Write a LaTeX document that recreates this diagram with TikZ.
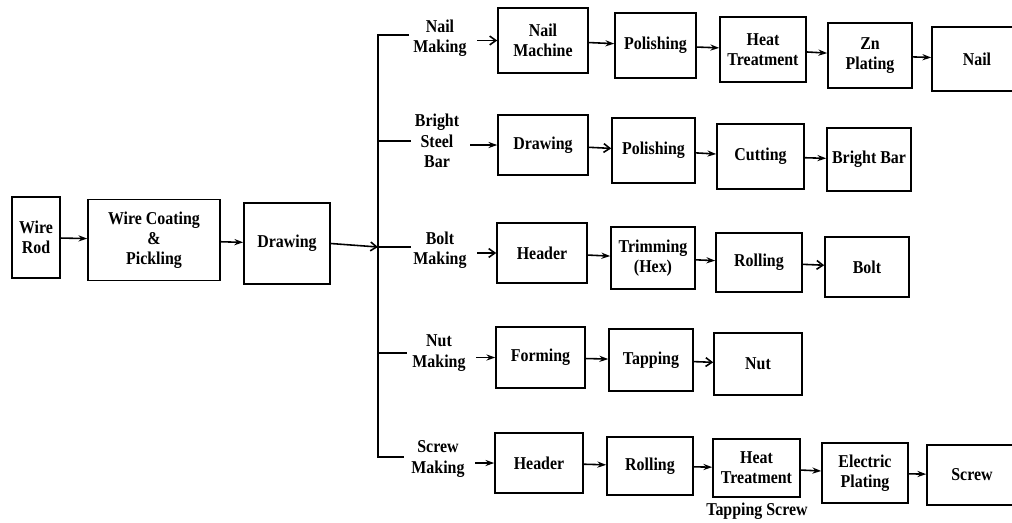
\documentclass[tikz,border=0pt]{standalone}
\usepackage{fontspec}
\setmainfont{Liberation Serif}[FakeStretch=0.88]
\usetikzlibrary{arrows.meta}
\newcommand{\lblfont}{\fontsize{10.3}{11.5}\selectfont\bfseries}
\begin{document}
\begin{tikzpicture}[x=0.02cm,y=-0.02cm,
  box/.style={draw, line width=0.9pt, inner sep=0pt, align=center, font=\lblfont},
  sz/.style 2 args={minimum width=#1*0.02cm, minimum height=#2*0.02cm},
  lbl/.style={align=center, font=\lblfont, inner sep=2pt},
  ln/.style={line width=0.9pt},
  arr/.style={line width=0.9pt, -{Stealth[length=5pt,width=3.5pt]}},
  oarr/.style={line width=0.9pt, -{Straight Barb[length=3.5pt,width=5pt]}}]
\useasboundingbox (0,0) rectangle (1012,522);
\clip (0,0) rectangle (1012,522);

% left chain
\node[box, sz={48}{81}] (wr) at (36,237.5) {Wire\\Rod};
\node[box, sz={132}{81}] (wc) at (154,240) {Wire Coating\\\&\\Pickling};
\node[box, sz={86}{81}] (d0) at (287,243.5) {Drawing};
\draw[arr] (wr) -- (wc);
\draw[arr] (wc) -- (d0);

% trunk
\coordinate (t1) at (378,35);
\coordinate (t1e) at (409,35);
\coordinate (t2) at (378,141);
\coordinate (t2e) at (411,141);
\coordinate (t3) at (378,247);
\coordinate (t3e) at (411,247);
\coordinate (t4) at (378,353);
\coordinate (t4e) at (407,353);
\coordinate (t5) at (378,457);
\coordinate (t5e) at (404,457);
\draw[ln] (t1e) -- (t1) -- (t5) -- (t5e);
\draw[ln] (t2) -- (t2e);
\draw[ln] (t4) -- (t4e);
\draw[oarr] (d0.east) -- (t3);
\draw[ln] (t3) -- (t3e);

% labels
\node[lbl] (lnail) at (440,38) {Nail\\Making};
\node[lbl] (lbright) at (437,141) {Bright\\Steel\\Bar};
\node[lbl] (lbolt) at (440,250) {Bolt\\Making};
\node[lbl] (lnut) at (439,353) {Nut\\Making};
\node[lbl] (lscrew) at (438,459) {Screw\\Making};

% row 1: nail
\node[box, sz={90}{65}] (nm) at (543,40.5) {Nail\\Machine};
\node[box, sz={81}{65}] (np) at (655.5,45.5) {Polishing};
\node[box, sz={86}{65}] (nh) at (763,49.5) {Heat\\Treatment};
\node[box, sz={84}{65}] (nz) at (870,55.5) {Zn\\Plating};
\node[box, sz={90}{64}] (nn) at (977,59) {Nail};
\draw[oarr] ([xshift=4pt]lnail.east |- nm.west) -- (nm.west);
\draw[arr] (nm) -- (np);
\draw[arr] (np) -- (nh);
\draw[arr] (nh) -- (nz);
\draw[arr] (nz) -- (nn);

% row 2: bright steel bar
\node[box, sz={90}{60}] (bd) at (543,145) {Drawing};
\node[box, sz={83}{65}] (bp) at (653.5,150.5) {Polishing};
\node[box, sz={87}{65}] (bc) at (760.5,156.5) {Cutting};
\node[box, sz={84}{63}] (bb) at (869,159.5) {Bright Bar};
\draw[arr] ([xshift=4pt]lbright.east |- bd.west) -- (bd.west);
\draw[oarr] (bd) -- (bp);
\draw[arr] (bp) -- (bc);
\draw[arr] (bc) -- (bb);

% row 3: bolt
\node[box, sz={90}{60}] (oh) at (542,253) {Header};
\node[box, sz={84}{62}] (ot) at (653,258) {Trimming\\(Hex)};
\node[box, sz={86}{59}] (or) at (759,262.5) {Rolling};
\node[box, sz={84}{60}] (ob) at (867,267) {Bolt};
\draw[oarr] ([xshift=4pt]lbolt.east |- oh.west) -- (oh.west);
\draw[arr] (oh) -- (ot);
\draw[arr] (ot) -- (or);
\draw[oarr] (or) -- (ob);

% row 4: nut
\node[box, sz={89}{61}] (uf) at (540.5,357.5) {Forming};
\node[box, sz={84}{62}] (ut) at (651,360) {Tapping};
\node[box, sz={88}{62}] (un) at (758,364) {Nut};
\draw[arr] ([xshift=4pt]lnut.east |- uf.west) -- (uf.west);
\draw[arr] (uf) -- (ut);
\draw[oarr] (ut) -- (un);

% row 5: screw
\node[box, sz={88}{60}] (sh) at (539,463) {Header};
\node[box, sz={86}{58}] (sr) at (650,466) {Rolling};
\node[box, sz={87}{58}] (st) at (756.5,468) {Heat\\Treatment};
\node[box, sz={86}{60}] (se) at (865,473) {Electric\\Plating};
\node[box, sz={90}{60}] (ss) at (972,475) {Screw};
\node[lbl, inner sep=0pt, anchor=north] (tsc) at (757,503) {Tapping Screw};
\draw[arr] ([xshift=4pt]lscrew.east |- sh.west) -- (sh.west);
\draw[arr] (sh) -- (sr);
\draw[arr] (sr) -- (st);
\draw[arr] (st) -- (se);
\draw[arr] (se) -- (ss);
\end{tikzpicture}
\end{document}
